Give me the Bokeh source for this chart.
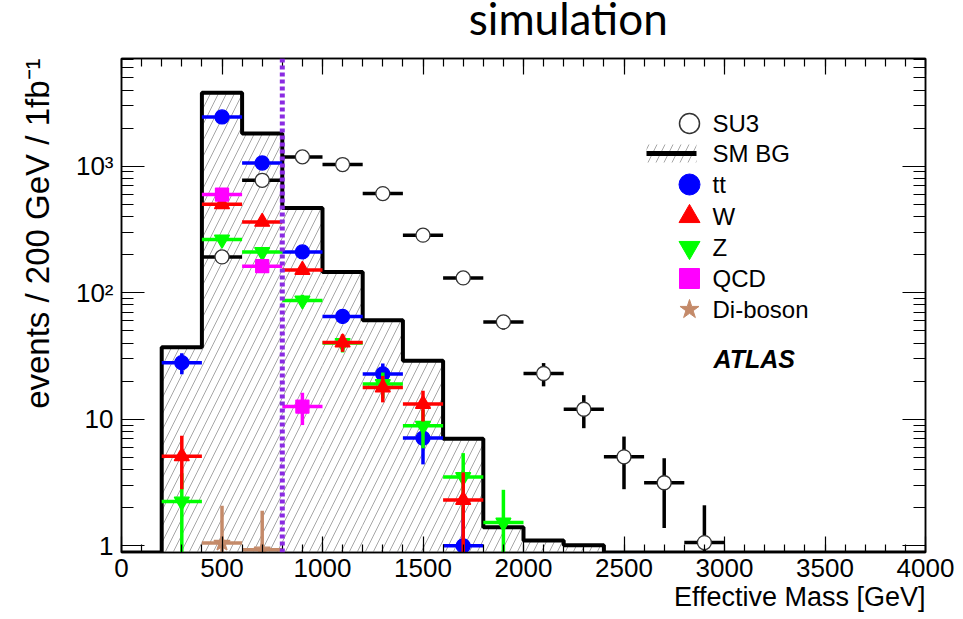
import numpy as np
from bokeh.plotting import figure
from bokeh.layouts import column
from bokeh.models import (Range1d, FixedTicker, LinearAxis, LogAxis, Span, Title,
                          LinearScale)
from bokeh.core.properties import value
from bokeh.embed import file_html
from bokeh.resources import INLINE

# ---------------- data ----------------
bin_edges = [0, 200, 400, 600, 800, 1000, 1200, 1400, 1600, 1800, 2000,
             2200, 2400, 2600, 2800, 3000, 3200, 3400, 3600, 3800, 4000]
sm_bg = [0, 37, 3800, 1810, 468, 146, 60.6, 29, 7.0, 1.40, 1.10, 1.01,
         0, 0, 0, 0, 0, 0, 0, 0]

su3_x = [500, 700, 900, 1100, 1300, 1500, 1700, 1900, 2100, 2300, 2500, 2700, 2900]
su3_y = [192, 774, 1185, 1031, 608, 285, 131, 58.8, 23.0, 12.0, 5.05, 3.15, 1.06]
su3_err = [13.9, 27.8, 34.4, 32.1, 24.7, 16.9, 11.4, 7.7, 4.8, 3.5, 2.25, 1.77, 1.03]

tt_x = [300, 500, 700, 900, 1100, 1300, 1500, 1700]
tt_y = [28, 2450, 1060, 210, 65, 22.8, 7.1, 1.0]
tt_err = [5.3, 49.5, 32.6, 14.5, 8.1, 4.8, 2.7, 1.0]

w_x = [300, 500, 700, 900, 1100, 1300, 1500, 1700]
w_y = [5.1, 500, 363, 151, 40.5, 17.8, 13.2, 2.3]
w_err = [2.3, 22, 19, 12.3, 6.4, 4.2, 3.6, 1.5]

z_x = [300, 500, 700, 900, 1100, 1300, 1500, 1700, 1900]
z_y = [2.24, 263, 210, 87, 40, 19, 8.9, 3.5, 1.53]
z_err = [1.5, 16, 14.5, 9.3, 6.3, 4.4, 3.0, 1.9, 1.24]

qcd_x = [500, 700, 900]
qcd_y = [597, 162, 12.6]
qcd_err = [24, 12.7, 3.6]

dib_x = [500, 700]
dib_y = [1.05, 0.93]
dib_err = [1.02, 0.96]

cut_x = 800
bin_width = 200

x_major = [0, 500, 1000, 1500, 2000, 2500, 3000, 3500, 4000]
y_major = [1, 10, 100, 1000]
y_labels = {1: "1", 10: "10", 100: "10\u00b2", 1000: "10\u00b3"}

legend_labels = ["SU3", "SM BG", "tt", "W", "Z", "QCD", "Di-boson"]

Y_MIN, Y_MAX = 0.885, 7100
FONT = "Liberation Sans"
TITLE_H = 56

# ---------------- title strip ----------------
tfig = figure(width=963, height=TITLE_H, x_range=Range1d(0, 963),
              y_range=Range1d(0, TITLE_H), output_backend="svg",
              toolbar_location=None, x_axis_location=None, y_axis_location=None,
              min_border=0, outline_line_color=None)
tfig.grid.visible = False
tfig.text(x=[416], y=[39], text=["simulation"], text_font=value("Lato"),
          text_font_size="44px", text_align="left", text_baseline="alphabetic",
          text_color="black")

# ---------------- main figure ----------------
p = figure(width=963, height=619 - TITLE_H, y_axis_type="log",
           x_range=Range1d(0, 4000), y_range=Range1d(Y_MIN, Y_MAX),
           output_backend="svg", toolbar_location=None,
           min_border_left=121, min_border_right=38,
           min_border_top=2, min_border_bottom=67)
p.xgrid.visible = False
p.ygrid.visible = False
p.outline_line_color = "black"
p.outline_line_width = 1.5
p.background_fill_color = "white"
p.border_fill_color = "white"

# pixel-like helper ranges for the in-frame legend (frame is 804 x 494 px)
p.extra_x_ranges = {"leg": Range1d(0, 804)}
p.extra_y_ranges = {"leg": Range1d(0, 494)}
p.extra_x_scales = {"leg": LinearScale()}
p.extra_y_scales = {"leg": LinearScale()}

x_minor = list(range(0, 4001, 100))
y_minor = [m * 10 ** d for d in range(-1, 4) for m in range(2, 10)]
xtick = FixedTicker(ticks=x_major, minor_ticks=x_minor)
ytick = FixedTicker(ticks=y_major, minor_ticks=y_minor)

def style_axis(ax, major_in, minor_in, labels=True, standoff=6):
    ax.major_tick_in = major_in
    ax.major_tick_out = 0
    ax.minor_tick_in = minor_in
    ax.minor_tick_out = 0
    ax.axis_line_width = 1.5
    ax.axis_line_color = "black"
    ax.major_tick_line_width = 1.2
    ax.minor_tick_line_width = 1.2
    ax.major_tick_line_color = "black"
    ax.minor_tick_line_color = "black"
    if labels:
        ax.major_label_text_font = FONT
        ax.major_label_text_font_size = "26px"
        ax.major_label_text_color = "black"
        ax.major_label_standoff = standoff
    else:
        ax.major_label_text_font_size = "1px"
        ax.major_label_text_alpha = 0
        ax.major_label_standoff = 0

xa = p.xaxis[0]
xa.ticker = xtick
style_axis(xa, 16, 8, standoff=6)

ya = p.yaxis[0]
ya.ticker = ytick
ya.major_label_overrides = y_labels
style_axis(ya, 23, 12, standoff=8)

top_ax = LinearAxis(ticker=xtick)
style_axis(top_ax, 16, 8, labels=False)
p.add_layout(top_ax, "above")
right_ax = LogAxis(ticker=ytick)
style_axis(right_ax, 23, 12, labels=False)
p.add_layout(right_ax, "right")

p.add_layout(Title(text="Effective Mass [GeV]", align="right",
                   text_font=FONT, text_font_style="normal",
                   text_font_size="27px", text_color="black", standoff=0),
             "below")
p.add_layout(Title(text="events / 200 GeV / 1fb\u207b\u00b9", align="right",
                   text_font=FONT, text_font_style="normal",
                   text_font_size="33px", text_color="black", standoff=33),
             "left")

# ---------------- SM background histogram ----------------
edges = np.array(bin_edges, dtype=float)
bg = np.array(sm_bg, dtype=float)
mask = bg > 0
HATCH = dict(hatch_pattern="/", hatch_color="#a6a6a6", hatch_scale=16,
             hatch_weight=1.0)
p.quad(left=edges[:-1][mask], right=edges[1:][mask], top=bg[mask],
       bottom=Y_MIN, fill_alpha=0, line_color=None, **HATCH)
step_y = np.where(mask, bg, Y_MIN)
step_y = np.append(step_y, step_y[-1])
p.step(x=edges, y=step_y, mode="after", line_color="black", line_width=4)

# ---------------- points with error bars ----------------
def points(xs, ys, errs, color, marker, size, fill=None, lw=3.5, line_color=None):
    xs = np.array(xs, float)
    ys = np.array(ys, float)
    es = np.array(errs, float)
    half = bin_width / 2
    p.segment(x0=xs - half, x1=xs + half, y0=ys, y1=ys, line_color=color, line_width=lw)
    lo = np.maximum(ys - es, Y_MIN * 0.5)
    p.segment(x0=xs, x1=xs, y0=lo, y1=ys + es, line_color=color, line_width=lw)
    p.scatter(x=xs, y=ys, marker=marker, size=size,
              fill_color=fill if fill else color,
              line_color=line_color if line_color else color, line_width=1.3)

points(tt_x, tt_y, tt_err, "#0000ff", "circle", 14)
points(z_x, z_y, z_err, "#00ff00", "inverted_triangle", 15)
points(w_x, w_y, w_err, "#ff0000", "triangle", 15)
points(qcd_x, qcd_y, qcd_err, "#ff00ff", "square", 13)
points(dib_x, dib_y, dib_err, "#c48a69", "star", 17)
points(su3_x, su3_y, su3_err, "black", "circle", 14, fill="white",
       line_color="#333333")

# cut line
p.add_layout(Span(location=cut_x, dimension="height", line_color="#8a2be2",
                  line_width=5, line_dash="4 3"))

# ---------------- legend (drawn in the helper pixel ranges) ----------------
row_y = [429, 399, 368, 336, 305, 274, 243]   # px above frame bottom
mk_x = 568
txt_x = 591
LEG = dict(x_range_name="leg", y_range_name="leg")
# SU3
p.scatter(x=[mk_x], y=[row_y[0]], marker="circle", size=20, fill_color="white",
          line_color="#333333", line_width=1.5, **LEG)
# SM BG
p.quad(left=[525], right=[575], bottom=[row_y[1] - 9], top=[row_y[1] + 9],
       fill_alpha=0, line_color=None, **HATCH, **LEG)
p.segment(x0=[525], x1=[575], y0=[row_y[1]], y1=[row_y[1]], line_color="black",
          line_width=5, **LEG)
# components
leg_markers = [("circle", "#0000ff", 21), ("triangle", "#ff0000", 21),
               ("inverted_triangle", "#00ff00", 21), ("square", "#ff00ff", 20),
               ("star", "#c48a69", 20)]
for (mk, col, sz), yy in zip(leg_markers, row_y[2:]):
    p.scatter(x=[mk_x], y=[yy], marker=mk, size=sz, fill_color=col,
              line_color=col, **LEG)
p.text(x=[txt_x] * len(legend_labels), y=row_y, text=legend_labels,
       text_font=value(FONT), text_font_size="24px", text_baseline="middle",
       text_color="black", **LEG)

p.text(x=[592], y=[194], text=["ATLAS"], text_font=value(FONT),
       text_font_style="bold italic", text_font_size="25px",
       text_baseline="middle", text_color="black", **LEG)

layout = column(tfig, p, spacing=0)
open("out.html", "w").write(file_html(layout, INLINE))
